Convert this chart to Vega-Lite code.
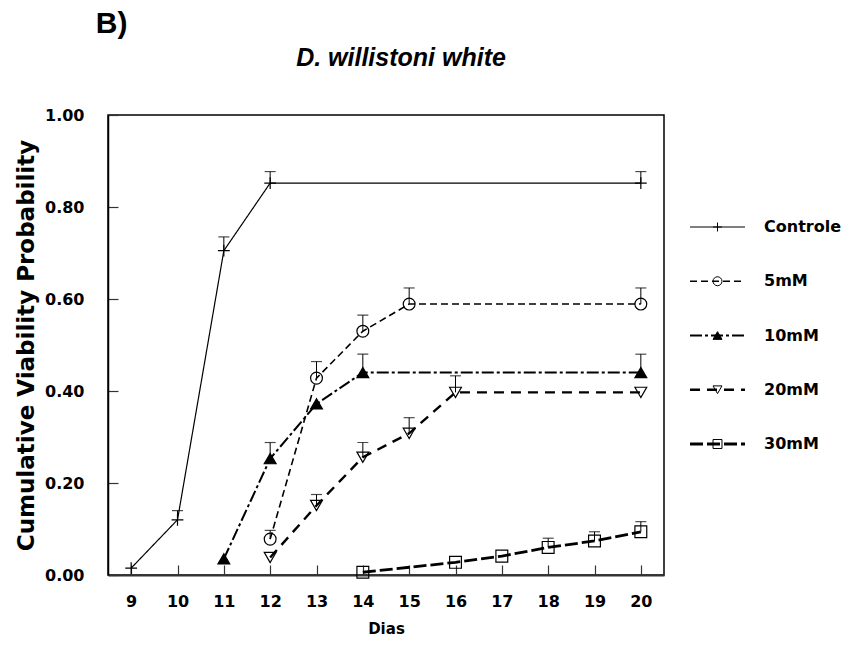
{
  "$schema": "https://vega.github.io/schema/vega-lite/v6.json",
  "background": "white",
  "padding": {"left": 14, "top": 9, "right": 0, "bottom": 4},
  "title": {"text": "B)", "anchor": "start", "font": "Liberation Sans", "fontSize": 30, "fontWeight": "bold", "color": "black", "dx": 81, "offset": 6},
  "config": {"font": "Liberation Sans", "view": {"stroke": null}},
  "spacing": 12,
  "datasets": {
    "viab": [
      {"series": "Controle", "day": 9, "p": 0.015, "upper": null},
      {"series": "Controle", "day": 10, "p": 0.12, "upper": 0.14},
      {"series": "Controle", "day": 11, "p": 0.705, "upper": 0.735},
      {"series": "Controle", "day": 12, "p": 0.852, "upper": 0.877},
      {"series": "Controle", "day": 20, "p": 0.852, "upper": 0.877},
      {"series": "5mM", "day": 12, "p": 0.078, "upper": 0.097},
      {"series": "5mM", "day": 13, "p": 0.428, "upper": 0.464},
      {"series": "5mM", "day": 14, "p": 0.53, "upper": 0.565},
      {"series": "5mM", "day": 15, "p": 0.589, "upper": 0.624},
      {"series": "5mM", "day": 20, "p": 0.589, "upper": 0.624},
      {"series": "10mM", "day": 11, "p": 0.035, "upper": null},
      {"series": "10mM", "day": 12, "p": 0.253, "upper": 0.288},
      {"series": "10mM", "day": 13, "p": 0.372, "upper": null},
      {"series": "10mM", "day": 14, "p": 0.44, "upper": 0.48},
      {"series": "10mM", "day": 20, "p": 0.44, "upper": 0.48},
      {"series": "20mM", "day": 12, "p": 0.038, "upper": null},
      {"series": "20mM", "day": 13, "p": 0.151, "upper": 0.175},
      {"series": "20mM", "day": 14, "p": 0.256, "upper": 0.288},
      {"series": "20mM", "day": 15, "p": 0.308, "upper": 0.342},
      {"series": "20mM", "day": 16, "p": 0.397, "upper": 0.433},
      {"series": "20mM", "day": 20, "p": 0.397, "upper": null},
      {"series": "30mM", "day": 14, "p": 0.006, "upper": null},
      {"series": "30mM", "day": 16, "p": 0.0275, "upper": null},
      {"series": "30mM", "day": 17, "p": 0.041, "upper": null},
      {"series": "30mM", "day": 18, "p": 0.06, "upper": 0.08},
      {"series": "30mM", "day": 19, "p": 0.074, "upper": 0.094},
      {"series": "30mM", "day": 20, "p": 0.094, "upper": 0.116}
    ],
    "legend": [
      {"series": "Controle"},
      {"series": "5mM"},
      {"series": "10mM"},
      {"series": "20mM"},
      {"series": "30mM"}
    ]
  },
  "hconcat": [
    {
      "width": 556,
      "height": 460,
      "title": {"text": "D. willistoni white", "font": "Liberation Sans", "fontSize": 25, "fontStyle": "italic", "fontWeight": "bold", "color": "black", "anchor": "middle", "dx": 15, "offset": 36},
      "view": {"stroke": "black", "strokeWidth": 1.5},
      "data": {"name": "viab"},
      "encoding": {
        "x": {
          "field": "day", "type": "quantitative",
          "scale": {"domain": [8.5, 20.5], "nice": false, "zero": false},
          "axis": {
            "title": "Dias", "values": [9, 10, 11, 12, 13, 14, 15, 16, 17, 18, 19, 20], "format": "d",
            "grid": false, "domainColor": "#333", "domainWidth": 2,
            "tickColor": "#333", "tickSize": -10, "tickWidth": 1.2,
            "labelPadding": 28, "labelFont": "DejaVu Sans", "labelFontSize": 16, "labelFontWeight": "bold", "labelColor": "black",
            "titleFont": "DejaVu Sans", "titleFontSize": 15, "titleFontWeight": "bold", "titleColor": "black", "titlePadding": 12
          }
        }
      },
      "layer": [
        {
          "transform": [{"filter": "datum.upper != null"}],
          "mark": {"type": "rule", "color": "black", "strokeWidth": 1},
          "encoding": {
            "y": {
              "field": "p", "type": "quantitative",
              "scale": {"domain": [0, 1], "nice": false},
              "axis": {
                "title": "Cumulative Viability Probability", "values": [0, 0.2, 0.4, 0.6, 0.8, 1], "format": ".2f",
                "grid": false, "domainColor": "black", "domainWidth": 1.5,
                "tickColor": "#333", "tickSize": -10, "tickWidth": 1.2,
                "labelPadding": 34, "labelFont": "DejaVu Sans", "labelFontSize": 16, "labelFontWeight": "bold", "labelColor": "black",
                "titleFont": "DejaVu Sans", "titleFontSize": 23, "titleFontWeight": "bold", "titleColor": "black", "titlePadding": 6
              }
            },
            "y2": {"field": "upper"}
          }
        },
        {
          "transform": [{"filter": "datum.upper != null"}],
          "mark": {"type": "tick", "orient": "horizontal", "color": "black", "thickness": 1.2, "size": 11},
          "encoding": {"y": {"field": "upper", "type": "quantitative"}}
        },
        {
          "mark": {"type": "line", "color": "black"},
          "encoding": {
            "y": {"field": "p", "type": "quantitative"},
            "detail": {"field": "series"},
            "strokeDash": {"field": "series", "type": "nominal", "scale": {"domain": ["Controle", "5mM", "10mM", "20mM", "30mM"], "range": [[1, 0], [7, 4], [12, 3, 3, 3], [10, 7], [13, 4]]}, "legend": null},
            "strokeWidth": {"field": "series", "type": "ordinal", "scale": {"domain": ["Controle", "5mM", "10mM", "20mM", "30mM"], "range": [1.2, 2.8, 2.8, 2.8, 3]}, "legend": null}
          }
        },
        {
          "mark": {"type": "point", "filled": true, "stroke": "black", "strokeWidth": 1.2, "size": 140, "opacity": 1},
          "encoding": {
            "y": {"field": "p", "type": "quantitative"},
            "shape": {"field": "series", "type": "nominal", "scale": {"domain": ["Controle", "5mM", "10mM", "20mM", "30mM"], "range": ["M-1,0H1M0,-1V1", "circle", "triangle-up", "triangle-down", "square"]}, "legend": null},
            "fill": {"field": "series", "type": "nominal", "scale": {"domain": ["Controle", "5mM", "10mM", "20mM", "30mM"], "range": ["transparent", "transparent", "black", "transparent", "transparent"]}, "legend": null}
          }
        }
      ]
    },
    {
      "width": 164,
      "height": 460,
      "data": {"name": "legend"},
      "encoding": {
        "y": {"field": "series", "type": "nominal", "scale": {"type": "point", "padding": 0, "domain": ["Controle", "5mM", "10mM", "20mM", "30mM"], "range": [112, 329]}, "axis": null}
      },
      "layer": [
        {
          "mark": {"type": "rule", "color": "black"},
          "encoding": {
            "x": {"datum": 13, "type": "quantitative", "scale": {"domain": [0, 164], "nice": false, "zero": false}, "axis": null},
            "x2": {"datum": 68},
            "strokeDash": {"field": "series", "type": "nominal", "scale": {"domain": ["Controle", "5mM", "10mM", "20mM", "30mM"], "range": [[1, 0], [6, 4], [10, 3, 3, 3], [8, 9], [12, 4]]}, "legend": null},
            "strokeWidth": {"field": "series", "type": "ordinal", "scale": {"domain": ["Controle", "5mM", "10mM", "20mM", "30mM"], "range": [1.2, 2.4, 2.4, 2.4, 2.6]}, "legend": null}
          }
        },
        {
          "mark": {"type": "point", "filled": true, "stroke": "black", "strokeWidth": 1, "size": 80, "opacity": 1},
          "encoding": {
            "x": {"datum": 40.5, "type": "quantitative"},
            "shape": {"field": "series", "type": "nominal", "scale": {"domain": ["Controle", "5mM", "10mM", "20mM", "30mM"], "range": ["M-1,0H1M0,-1V1", "circle", "triangle-up", "triangle-down", "square"]}, "legend": null},
            "fill": {"field": "series", "type": "nominal", "scale": {"domain": ["Controle", "5mM", "10mM", "20mM", "30mM"], "range": ["transparent", "transparent", "black", "transparent", "transparent"]}, "legend": null}
          }
        },
        {
          "mark": {"type": "text", "align": "left", "baseline": "middle", "font": "DejaVu Sans", "fontSize": 16, "fontWeight": "bold", "color": "black"},
          "encoding": {
            "x": {"datum": 87, "type": "quantitative"},
            "text": {"field": "series"}
          }
        }
      ]
    }
  ]
}
